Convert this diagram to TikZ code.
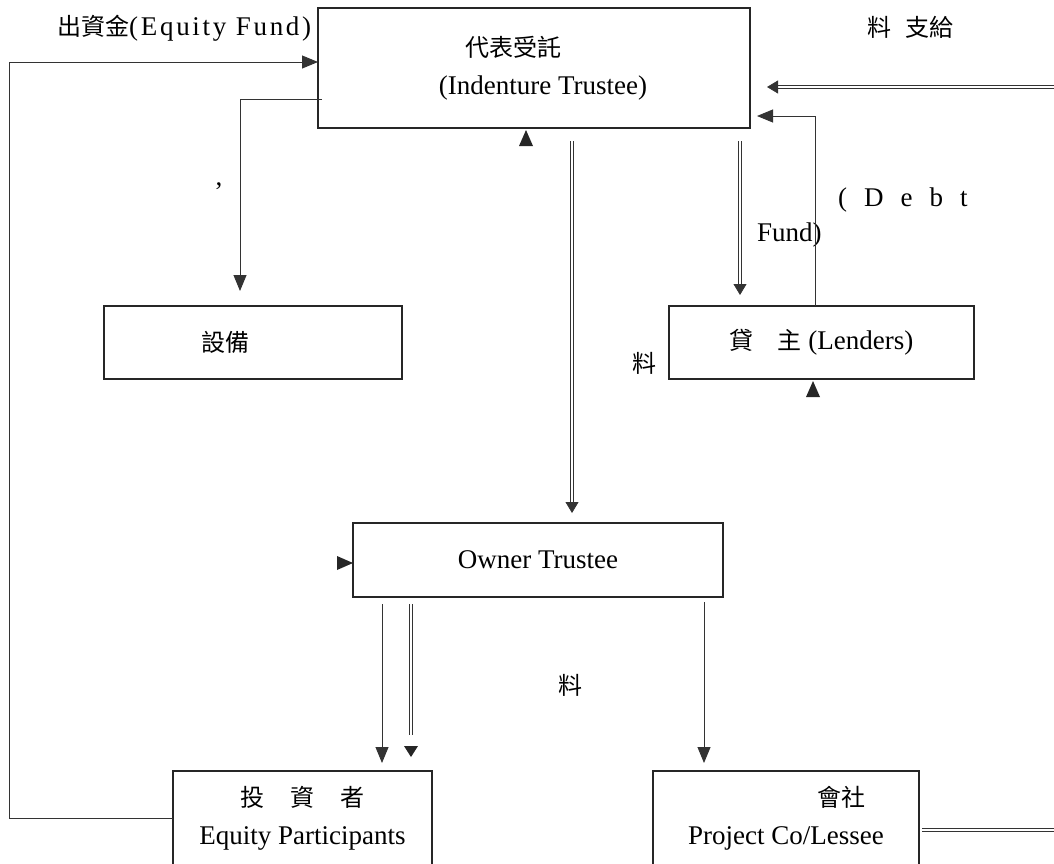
\documentclass[tikz,border=0pt]{standalone}
\usepackage{fontspec}
\setmainfont{Liberation Serif}
\newfontfamily\cjk{Noto Sans CJK TC}
\newfontfamily\spaced[LetterSpace=10]{Liberation Serif}
\newcommand\zh{\cjk\fontsize{24}{36}\selectfont}
\usetikzlibrary{calc,arrows.meta}

\begin{document}
\begin{tikzpicture}
      [x=1pt,y=-1pt
      ,box/.style={draw=black!85,line width=1.4pt,inner sep=0,outer sep=0,align=center,font=\fontsize{27}{38}\selectfont}
      ,txt/.style={inner sep=0,font=\fontsize{27}{36}\selectfont}
      ,lin/.style={draw=black!80,line width=.9pt}
      ,dbl/.style={draw=black!80,double,double distance=2.6pt,line width=.8pt}
      ,tip/.style={-{Triangle[length=16pt,width=13pt]}}
      ,dtip/.style={-{Triangle[length=11pt,width=13pt]}}]
        \useasboundingbox (0,0) rectangle (1054,863);
        \node[box,minimum width=432,minimum height=120] (ind) at (534,68)
             {\zh\hspace*{-42pt}代表受託\\\hspace*{18pt}(Indenture Trustee)};
        \node[box,minimum width=298,minimum height=73] (dev) at (253,342.5) {\zh\hspace*{-56pt}設備};
        \node[box,minimum width=305,minimum height=73] (len) at (821.5,342.5)
             {{\zh 貸\hspace{24pt}主} (Lenders)};
        \node[box,minimum width=370,minimum height=74] (own) at (538,560) {Owner Trustee};
        \node[box,minimum width=259,minimum height=95] (inv) at (302.5,818.5)
             {{\zh 投\hspace{26pt}資\hspace{26pt}者}\\Equity Participants};
        \node[box,minimum width=266,minimum height=95] (prj) at (786,818.5)
             {{\zh\hspace*{110pt}會社}\\Project Co/Lessee};
        \node[txt,anchor=west] (eq) at (57,28) {{\zh 出資金}{\spaced(Equity Fund)}};
        \node[txt] (pay) at (910,27) {\zh 料\hspace{14pt}支給};
        \node[txt] (comma) at (219,186) {,};
        \node[txt,anchor=west] (debt) at (838,200)
             {(\hspace{17pt}D\hspace{17pt}e\hspace{17pt}b\hspace{17pt}t};
        \node[txt,anchor=west] (fund) at (757,235) {Fund)};
        \node[txt] (feeL) at (644,363) {\zh 料};
        \node[txt] (feeM) at (570,685) {\zh 料};
        \coordinate (lft) at (9,62);
        \coordinate (rt) at (1060,87);
        \coordinate (rb) at (1060,830);
        \draw[lin,tip] (inv.west) -| (lft) -- ($(ind.west)+(0,-6)$);
        \draw[lin,tip] ($(ind.west)+(4,31)$) -| ($(dev.north)+(-13,-15)$);
        \draw[dbl,dtip] (rt) -- ($(ind.east)+(17,19)$);
        \draw[lin,tip] ($(len.north)+(-6.5,0)$) |- ($(ind.east)+(7,48)$);
        \draw[dbl,dtip] ($(ind.south east)+(-10,13)$) -- ($(len.north west)+(71,-11)$);
        \draw[dbl,dtip] ($(ind.south)+(38,13)$) -- ($(own.north)+(34,-10)$);
        \draw[lin,tip] ($(own.south west)+(29,7)$) -- ($(inv.north)+(79.5,-8)$);
        \draw[dbl] ($(own.south west)+(58,7)$) -- ($(inv.north east)+(-21,-36)$);
        \draw[lin,tip] ($(own.south east)+(-19,5)$) -- ($(prj.north west)+(51,-8)$);
        \draw[dbl] ($(prj.east)+(3,11.5)$) -- (rb);
        \foreach \n/\dx/\dy/\r/\s in {ind.south/-8/2/90/16,len.south/-8.5/2/90/16,
                                      own.west/0/3/0/16,inv.north east/-21/-14/-90/11}{
          \fill[black!85,shift={($(\n)+(\dx,\dy)$)},rotate=\r] (0,0) -- (-\s,7) -- (-\s,-7) -- cycle;
        }
\end{tikzpicture}
\end{document}
